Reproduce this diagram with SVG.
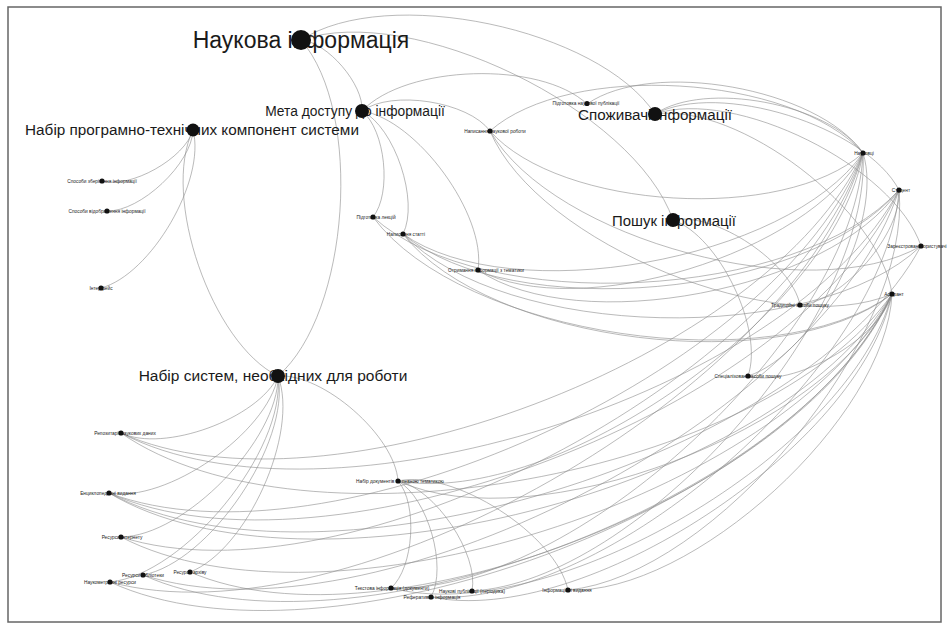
<svg xmlns="http://www.w3.org/2000/svg" width="950" height="632" viewBox="0 0 950 632">
<style>
.e{fill:none;stroke:#8c8c8c;stroke-width:0.6}
.big{font-family:"Liberation Sans",Arial,sans-serif;fill:#1a1a1a;text-anchor:middle}
.sm{font-family:"Liberation Sans",Arial,sans-serif;fill:#222;text-anchor:middle;font-size:4.8px}
.d{fill:#111}
</style>
<rect x="0" y="0" width="950" height="632" fill="#fff"/>
<rect x="8" y="7" width="933" height="615" fill="none" stroke="#666" stroke-width="1.5"/>
<g id="edges">
<path class="e" d="M301,40 C327.4,42 364,84.6 362,111"/>
<path class="e" d="M301,40 C386.6,-16 599,28.4 655,114"/>
<path class="e" d="M301,40 C411.4,1.6 634.6,109.6 673,220"/>
<path class="e" d="M301,40 C363.6,111.8 349.8,313.4 278,376"/>
<path class="e" d="M278,376 C211.8,343.8 160.8,196.2 193,130"/>
<path class="e" d="M193,130 C185,158.4 130.4,189 102,181"/>
<path class="e" d="M193,130 C192,163.4 140.4,212 107,211"/>
<path class="e" d="M193,130 C206.2,180 151,274.8 101,288"/>
<path class="e" d="M362,111 C405.6,64.6 540.6,60.4 587,104"/>
<path class="e" d="M362,111 C391.6,89.4 468.4,101.4 490,131"/>
<path class="e" d="M362,111 C385.4,130 392,193.6 373,217"/>
<path class="e" d="M362,111 C394.8,127.4 419.4,201.2 403,234"/>
<path class="e" d="M362,111 C417,119.6 486.6,215 478,270"/>
<path class="e" d="M655,114 C704.4,80.2 829.2,103.6 863,153"/>
<path class="e" d="M655,114 C719,80.4 865.4,126 899,190"/>
<path class="e" d="M655,114 C734.6,87.2 894.2,166.4 921,246"/>
<path class="e" d="M655,114 C738.4,102.6 880.6,210.6 892,294"/>
<path class="e" d="M673,220 C715.4,211.6 791.6,262.6 800,305"/>
<path class="e" d="M673,220 C719.2,236.2 764.2,329.8 748,376"/>
<path class="e" d="M278,376 C258,418.8 163.8,453 121,433"/>
<path class="e" d="M278,376 C267.6,433.2 166.2,503.4 109,493"/>
<path class="e" d="M278,376 C278.8,439.6 184.6,536.2 121,537"/>
<path class="e" d="M278,376 C290.8,442.8 209.8,562.2 143,575"/>
<path class="e" d="M278,376 C299.6,432.8 246.8,550.4 190,572"/>
<path class="e" d="M278,376 C285.6,450.8 184.8,574.4 110,582"/>
<path class="e" d="M278,376 C323,373 395,436 398,481"/>
<path class="e" d="M398,481 C418,503.8 413.8,568 391,588"/>
<path class="e" d="M398,481 C427.8,497.6 447.6,567.2 431,597"/>
<path class="e" d="M398,481 C434.8,488.2 479.2,554.2 472,591"/>
<path class="e" d="M398,481 C453.8,468.8 555.8,534.2 568,590"/>
<path class="e" d="M587,104 C652,58.6 817.6,88 863,153"/>
<path class="e" d="M490,131 C569,60.8 792.8,74 863,153"/>
<path class="e" d="M863,153 C784,223.2 560.2,210 490,131"/>
<path class="e" d="M863,153 C787.2,261.2 511.2,309.8 403,234"/>
<path class="e" d="M863,153 C809.4,253.4 578.4,323.6 478,270"/>
<path class="e" d="M863,153 C770.6,357.4 325.4,525.4 121,433"/>
<path class="e" d="M863,153 C780.2,371.8 327.8,575.8 109,493"/>
<path class="e" d="M863,153 C791.4,378.2 346.2,608.6 121,537"/>
<path class="e" d="M863,153 C798.2,389.4 346.4,646.8 110,582"/>
<path class="e" d="M863,153 C835.6,311.6 556.6,508.4 398,481"/>
<path class="e" d="M863,153 C855.6,334.4 572.4,595.4 391,588"/>
<path class="e" d="M863,153 C872.4,318.8 637.8,581.6 472,591"/>
<path class="e" d="M863,153 C884.6,220.6 815.6,354.4 748,376"/>
<path class="e" d="M899,190 C799.2,300.6 483.6,316.8 373,217"/>
<path class="e" d="M899,190 C808.6,298 511,324.4 403,234"/>
<path class="e" d="M899,190 C830.8,290.2 578.2,338.2 478,270"/>
<path class="e" d="M899,190 C792,394.2 325.2,540 121,433"/>
<path class="e" d="M899,190 C801.6,408.6 327.6,590.4 109,493"/>
<path class="e" d="M899,190 C824.8,418.2 371.2,649.2 143,575"/>
<path class="e" d="M899,190 C886.8,365 606,609.2 431,597"/>
<path class="e" d="M899,190 C912.8,336.2 714.2,576.2 568,590"/>
<path class="e" d="M899,190 C902.2,232.8 842.8,301.8 800,305"/>
<path class="e" d="M921,246 C811.8,309.2 553.2,240.2 490,131"/>
<path class="e" d="M921,246 C815,347.2 504.2,340 403,234"/>
<path class="e" d="M921,246 C808,457.8 320.8,606 109,493"/>
<path class="e" d="M892,294 C779,341.8 537.8,244 490,131"/>
<path class="e" d="M892,294 C772.8,382.4 461.4,336.2 373,217"/>
<path class="e" d="M892,294 C782.2,379.8 488.8,343.8 403,234"/>
<path class="e" d="M892,294 C765.6,476 303,559.4 121,433"/>
<path class="e" d="M892,294 C775.2,490.4 305.4,609.8 109,493"/>
<path class="e" d="M892,294 C786.4,496.8 323.8,642.6 121,537"/>
<path class="e" d="M892,294 C798.4,500 349,668.6 143,575"/>
<path class="e" d="M892,294 C807.2,490 386,656.8 190,572"/>
<path class="e" d="M892,294 C793.2,508 324,680.8 110,582"/>
<path class="e" d="M892,294 C830.6,430.2 534.2,542.4 398,481"/>
<path class="e" d="M892,294 C850.6,453 550,629.4 391,588"/>
<path class="e" d="M892,294 C860.4,446.8 583.8,628.6 431,597"/>
<path class="e" d="M892,294 C886.4,418 692,595.6 568,590"/>
<path class="e" d="M892,294 C879.6,339.2 793.2,388.4 748,376"/>
</g>
<g id="n-nauk"><text class="big" x="301" y="48" font-size="23">Наукова інформація</text><circle class="d" cx="301" cy="40" r="10"/></g>
<g id="n-meta"><text class="big" x="355" y="116" font-size="13.8">Мета доступу до інформації</text><circle class="d" cx="362" cy="111" r="7"/></g>
<g id="n-prog"><text class="big" x="192" y="135" font-size="15.3">Набір програмно-технічних компонент системи</text><circle class="d" cx="193" cy="130" r="6.5"/></g>
<g id="n-spoz"><text class="big" x="655" y="119.5" font-size="15.2">Споживачі інформації</text><circle class="d" cx="655" cy="114" r="7"/></g>
<g id="n-poshuk"><text class="big" x="674" y="226" font-size="14.9">Пошук інформації</text><circle class="d" cx="673" cy="220" r="7"/></g>
<g id="n-system"><text class="big" x="273" y="381" font-size="15.5">Набір систем, необхідних для роботи</text><circle class="d" cx="278" cy="376" r="7"/></g>
<g id="p1"><text class="sm" x="102" y="183">Способи зберігання інформації</text><circle class="d" cx="102" cy="181" r="2.6"/></g>
<g id="p2"><text class="sm" x="107" y="213">Способи відображення інформації</text><circle class="d" cx="107" cy="211" r="2.6"/></g>
<g id="p3"><text class="sm" x="101" y="290">Інтерфейс</text><circle class="d" cx="101" cy="288" r="2.6"/></g>
<g id="m1"><text class="sm" x="586" y="104.5">Підготовка наукової публікації</text><circle class="d" cx="587" cy="103.5" r="2.6"/></g>
<g id="m2"><text class="sm" x="495" y="133">Написання наукової роботи</text><circle class="d" cx="490" cy="131" r="2.6"/></g>
<g id="m3"><text class="sm" x="376" y="219">Підготовка лекцій</text><circle class="d" cx="373" cy="217" r="2.6"/></g>
<g id="m4"><text class="sm" x="406" y="236">Написання статті</text><circle class="d" cx="403" cy="234" r="2.6"/></g>
<g id="m5"><text class="sm" x="486" y="272">Отримання інформації з тематики</text><circle class="d" cx="478" cy="270" r="2.6"/></g>
<g id="u1"><text class="sm" x="864" y="155">Науковці</text><circle class="d" cx="863" cy="153" r="2.6"/></g>
<g id="u2"><text class="sm" x="901" y="192">Студент</text><circle class="d" cx="899" cy="190" r="2.6"/></g>
<g id="u3"><text class="sm" x="917" y="248" font-size="4.5">Зареєстровані користувачі</text><circle class="d" cx="921" cy="246" r="2.6"/></g>
<g id="u4"><text class="sm" x="894" y="296">Аспірант</text><circle class="d" cx="892" cy="294" r="2.6"/></g>
<g id="q1"><text class="sm" x="800" y="307">Традиційні засоби пошуку</text><circle class="d" cx="800" cy="305" r="2.6"/></g>
<g id="q2"><text class="sm" x="748" y="378">Спеціалізовані засоби пошуку</text><circle class="d" cx="748" cy="376" r="2.6"/></g>
<g id="s1"><text class="sm" x="125" y="435">Репозитарії наукових даних</text><circle class="d" cx="121" cy="433" r="2.6"/></g>
<g id="s2"><text class="sm" x="108" y="495">Енциклопедичні видання</text><circle class="d" cx="109" cy="493" r="2.6"/></g>
<g id="s3"><text class="sm" x="122" y="539">Ресурси Інтернету</text><circle class="d" cx="121" cy="537" r="2.6"/></g>
<g id="s4"><text class="sm" x="143" y="577">Ресурси бібліотеки</text><circle class="d" cx="143" cy="575" r="2.6"/></g>
<g id="s5"><text class="sm" x="190" y="574">Ресурси архіву</text><circle class="d" cx="190" cy="572" r="2.6"/></g>
<g id="s6"><text class="sm" x="110" y="584">Наукометричні ресурси</text><circle class="d" cx="110" cy="582" r="2.6"/></g>
<g id="s7"><text class="sm" x="400" y="483">Набір документів за певною тематикою</text><circle class="d" cx="398" cy="481" r="2.6"/></g>
<g id="d1"><text class="sm" x="392" y="590">Текстова інформація (документи)</text><circle class="d" cx="391" cy="588" r="2.6"/></g>
<g id="d2"><text class="sm" x="432" y="599">Реферативна інформація</text><circle class="d" cx="431" cy="597" r="2.6"/></g>
<g id="d3"><text class="sm" x="472" y="593">Наукові публікації (періодика)</text><circle class="d" cx="472" cy="591" r="2.6"/></g>
<g id="d4"><text class="sm" x="567" y="592">Інформаційні видання</text><circle class="d" cx="568" cy="590" r="2.6"/></g>
</svg>
